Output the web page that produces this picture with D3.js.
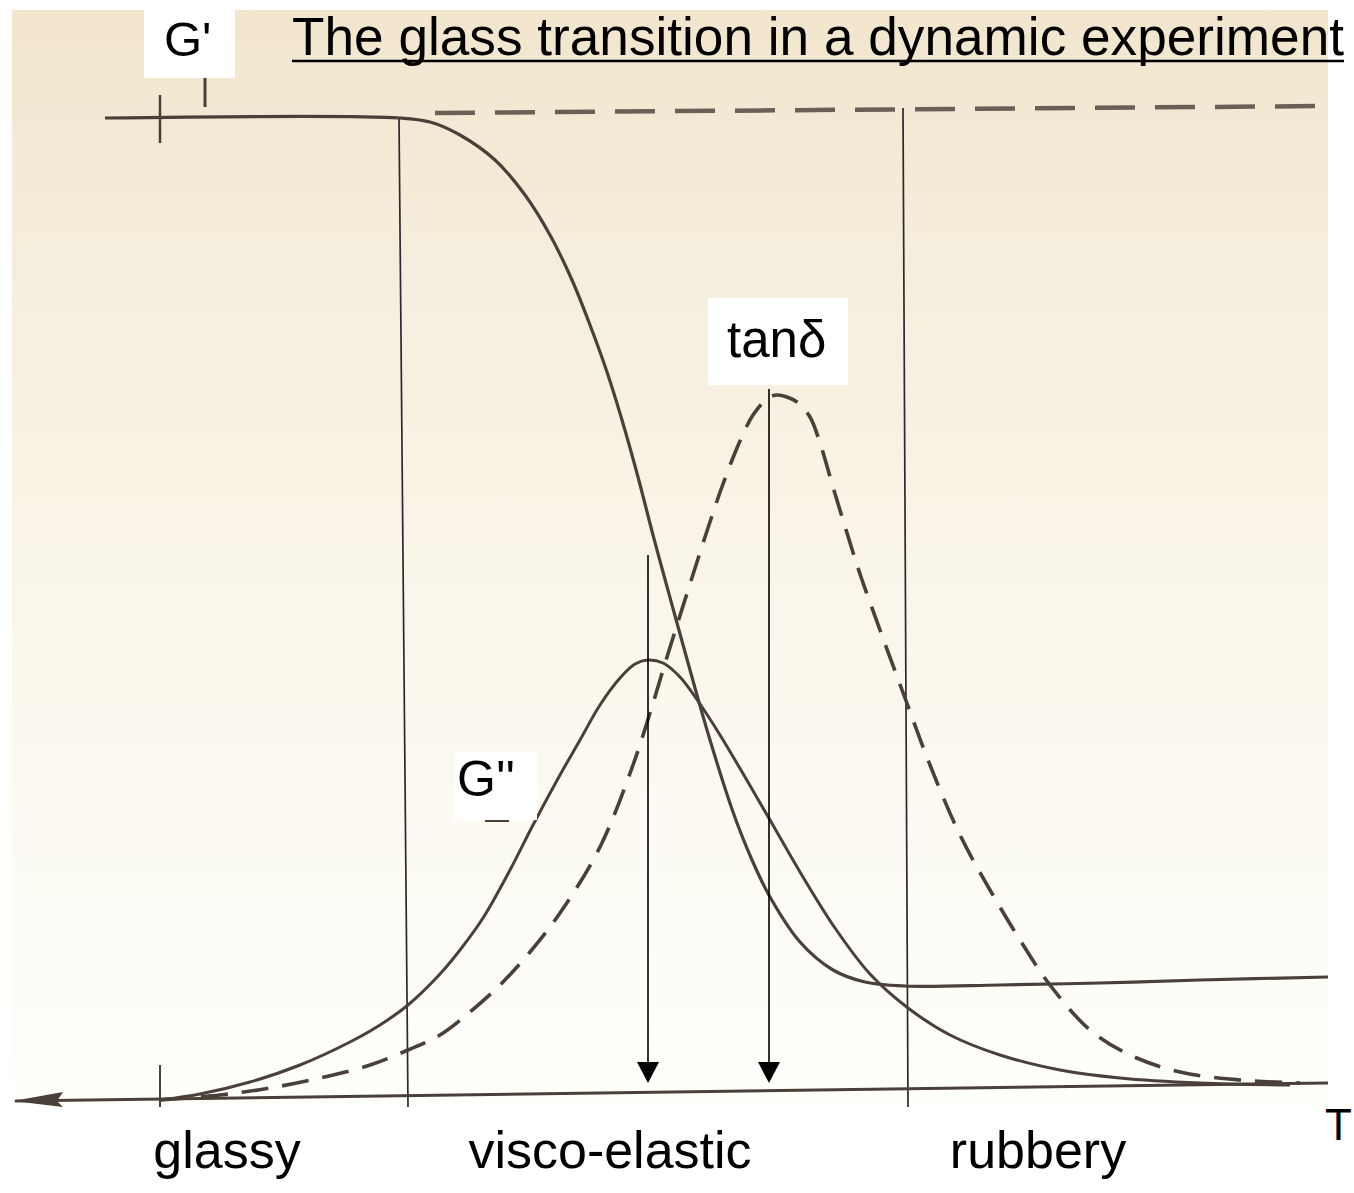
<!DOCTYPE html>
<html><head><meta charset="utf-8">
<script src="https://cdn.jsdelivr.net/npm/d3@7"></script>
<style>body{margin:0;background:#fff}svg{display:block}</style>
</head><body>
<svg id="c" width="1354" height="1193"></svg>
<script>
// ---------- DATA (T in arbitrary temperature units, value in arbitrary modulus units) ----------
const titleText = "The glass transition in a dynamic experiment";
const regionLabels = ["glassy", "visco-elastic", "rubbery"];
const regionCenters = [6.7, 45, 87.8];
const axisLabel = "T";

// G' storage modulus (solid)
const gPrime = [[-5.5,98.2],[24,98.2],[27,97.8],[30,96.5],[33.5,94],[36.5,90.5],[39,86.5],[41.2,82],
  [43,77.5],[44.7,72.8],[46.2,68],[47.8,62.3],[49.3,56.5],[50.3,52.8],[51.7,47.7],[53,43],[55,36],
  [57.3,28.8],[59.2,24],[61,20.3],[64,15.8],[67.3,13],[70.5,11.8],[74.5,11.4],[84,11.5],[94,11.7],
  [104,12],[116.8,12.3]];
// G' continuation of glassy plateau (dashed)
const gPrimeGlassyExt = [[27.5,98.7],[116.8,99.4]];
// G'' loss modulus (solid)
const gDouble = [[0,0],[4,0.6],[9,1.8],[14,3.5],[19,5.8],[22,7.5],[24.8,9.5],[28,12.6],[30,15],
  [32.3,18.2],[35,23],[37.3,27.5],[40,32.5],[42,36],[44,39.5],[46,42.2],[47.5,43.6],[48.8,44],
  [50.3,43.7],[52,42.3],[54,39.6],[56,36.5],[58.5,32.3],[61,28],[64,22.8],[67.5,17.2],[71,12.6],
  [74.8,9.2],[79,6.5],[84,4.5],[90,3],[96,2.2],[104,1.7],[113,1.5]];
// tan delta (dashed)
const tanDelta = [[0,0],[6,0.5],[11,1.2],[16,2.2],[21,3.5],[24.8,5],[28,6.5],[31,8.8],[34,11.5],
  [37,14.8],[40,18.7],[44,25.3],[47.3,33.5],[49,38.7],[50.7,44.3],[53,51.6],[54.7,56.9],[56.3,61.6],
  [58,65.9],[59.3,68.5],[60.7,70.1],[61.7,70.5],[63.7,69.8],[65,68.3],[66,65.7],[67.3,61.3],
  [68.7,56.7],[70,52.6],[72,47],[74.5,40.2],[77,33.5],[80,26.5],[83,21],[86,16],[89,11.5],[93,7],
  [97,4.5],[102,2.8],[108,2],[114,1.7]];
// peak markers (arrows): [T, top value]
const peakArrows = [[48.8, 54.5], [60.9, 71.1]];
// baseline (T axis, slightly tilted in the scan)
const baseline = [[-14.5,-0.1],[116.8,1.7]];

// ---------- SCALES ----------
const x = d3.scaleLinear().domain([0, 116.8]).range([160, 1328]);
const y = d3.scaleLinear().domain([0, 98]).range([1100, 120]);

const svg = d3.select("#c");
const defs = svg.append("defs");
const grad = defs.append("linearGradient").attr("id","bg").attr("x1",0).attr("y1",0).attr("x2",0).attr("y2",1);
[[0,"#f1e5cd"],[0.25,"#f6eedd"],[0.55,"#faf6eb"],[0.8,"#fcfbf4"],[1,"#fefefb"]].forEach(s =>
  grad.append("stop").attr("offset", s[0]).attr("stop-color", s[1]));

// scanned-paper panel
svg.append("rect").attr("x",12).attr("y",10).attr("width",1316).attr("height",1097).attr("fill","url(#bg)");

const ink = "#4a4039";
const line = d3.line().x(d => x(d[0])).y(d => y(d[1])).curve(d3.curveCatmullRom.alpha(0.5));
const straight = d3.line().x(d => x(d[0])).y(d => y(d[1]));

// region boundary verticals
const vLines = [[[23.9,98.2],[24.8,-0.7]], [[74.3,99.2],[74.8,-0.7]]];
vLines.forEach(v => svg.append("path").attr("d", straight(v)).attr("stroke","#2f2832")
  .attr("stroke-width",1.7).attr("fill","none"));

// baseline axis
svg.append("path").attr("d", straight(baseline)).attr("stroke", ink).attr("stroke-width",3).attr("fill","none");
{
  const tx = x(baseline[0][0]) - 2, ty = y(baseline[0][1]);
  svg.append("path").attr("d", `M${tx},${ty} L${tx+50},${ty-9} L${tx+44},${ty} L${tx+50},${ty+6} Z`)
    .attr("fill", ink);
}
// ticks at T=0
svg.append("path").attr("d", straight([[0,3.5],[0,-0.7]])).attr("stroke", ink).attr("stroke-width",2);
svg.append("path").attr("d", straight([[0,100.5],[0,95.7]])).attr("stroke", ink).attr("stroke-width",2.5);
svg.append("path").attr("d", straight([[4.5,102.2],[4.5,99.3]])).attr("stroke", ink).attr("stroke-width",3);

// curves
svg.append("path").attr("d", straight(gPrimeGlassyExt)).attr("stroke","#6b6058").attr("stroke-width",4.5)
  .attr("stroke-dasharray","40,20").attr("fill","none");
svg.append("path").attr("d", line(tanDelta)).attr("stroke", ink).attr("stroke-width",3.6)
  .attr("stroke-dasharray","27,14").attr("fill","none");
svg.append("path").attr("d", line(gDouble)).attr("stroke", ink).attr("stroke-width",3).attr("fill","none");
svg.append("path").attr("d", line(gPrime)).attr("stroke", ink).attr("stroke-width",3.2).attr("fill","none");

// peak arrows
const tipV = 1.7;
peakArrows.forEach(a => {
  const ax = x(a[0]), ty = y(tipV);
  svg.append("line").attr("x1",ax).attr("x2",ax).attr("y1",y(a[1])).attr("y2",ty-18)
    .attr("stroke","#000").attr("stroke-width",1.6);
  svg.append("path").attr("d",`M${ax-11},${ty-21} L${ax+11},${ty-21} L${ax},${ty} Z`).attr("fill","#000");
});

// label boxes
const font = "'Liberation Sans', Arial, Helvetica, sans-serif";
svg.append("rect").attr("x",144).attr("y",10).attr("width",91).attr("height",68).attr("fill","#fff");
svg.append("rect").attr("x",708).attr("y",298).attr("width",140).attr("height",87).attr("fill","#fff");
svg.append("rect").attr("x",454).attr("y",752).attr("width",83).attr("height",68).attr("fill","#fff");
svg.append("line").attr("x1",485).attr("x2",509).attr("y1",821).attr("y2",821).attr("stroke",ink).attr("stroke-width",2);

svg.append("text").attr("x",164).attr("y",56).attr("font-family",font).attr("font-size",49).text("G'");
svg.append("text").attr("x",727).attr("y",357).attr("font-family",font).attr("font-size",51).text("tan\u03B4");
svg.append("text").attr("x",457).attr("y",796).attr("font-family",font).attr("font-size",50).text("G''");

// title
svg.append("text").attr("x",292).attr("y",55).attr("font-family",font).attr("font-size",53)
  .attr("textLength",1052).attr("lengthAdjust","spacingAndGlyphs").text(titleText);
svg.append("line").attr("x1",292).attr("x2",1344).attr("y1",61).attr("y2",61).attr("stroke","#000").attr("stroke-width",2.5);

// region labels
svg.selectAll("text.reg").data(regionLabels).enter().append("text").attr("class","reg")
  .attr("x",(d,i)=>x(regionCenters[i])).attr("y",1168).attr("text-anchor","middle")
  .attr("font-family",font).attr("font-size",52).text(d=>d);
svg.append("text").attr("x",1325).attr("y",1140).attr("font-family",font).attr("font-size",44).text(axisLabel);
</script>
</body></html>
